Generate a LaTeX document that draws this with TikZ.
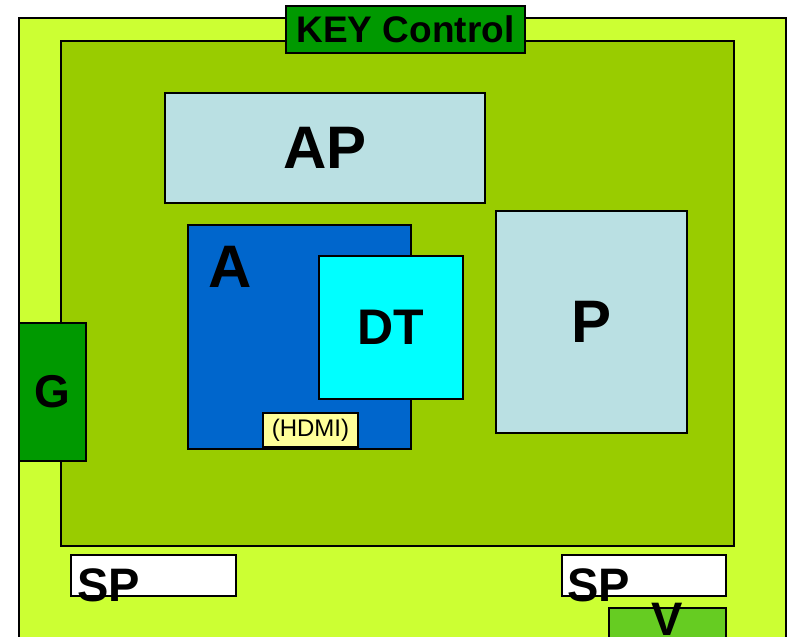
\documentclass[tikz,border=0pt]{standalone}
\usepackage{fontspec}
\setmainfont{Liberation Sans}
\usetikzlibrary{positioning}
\definecolor{limeboard}{HTML}{CCFF33}
\definecolor{panelgreen}{HTML}{99CC00}
\definecolor{keygreen}{HTML}{009900}
\definecolor{paleblue}{HTML}{BAE0E3}
\definecolor{deepblue}{HTML}{0066CC}
\definecolor{aqua}{HTML}{00FFFF}
\definecolor{paleyellow}{HTML}{FFFF99}
\definecolor{vgreen}{HTML}{66CC22}
\tikzset{
  box/.style   ={draw=black, line width=2pt, fill=#1, inner sep=0pt, anchor=north west},
  bigtxt/.style={font=\fontsize{60}{60}\selectfont\bfseries, inner sep=0pt},
  midtxt/.style={font=\fontsize{47}{47}\selectfont\bfseries, inner sep=0pt},
}
\begin{document}
\begin{tikzpicture}[x=1pt, y=-1pt]
\useasboundingbox (0,0) rectangle (790,637);
\clip (0,0) rectangle (790,637);
% board and panel
\node[box=limeboard, minimum width=767pt, minimum height=640pt] (board) at (18,17) {};
\node[box=panelgreen, minimum width=673pt, minimum height=505pt] (panel) at (60,40) {};
\node[box=keygreen, minimum width=239pt, minimum height=47pt,
      font=\fontsize{37}{37}\selectfont\bfseries] (key) at (285,5) {KEY Control};
% blocks inside the panel
\node[box=paleblue, minimum width=320pt, minimum height=110pt, bigtxt] (ap) at (164,92) {AP};
\node[box=paleblue, minimum width=191pt, minimum height=222pt, bigtxt] (p) at (495,210) {P};
\node[box=deepblue, minimum width=223pt, minimum height=224pt] (a) at (187,224) {};
\node[bigtxt] (atxt) at (230,267) {A};
\node[box=aqua, minimum width=144pt, minimum height=143pt,
      font=\fontsize{50}{50}\selectfont\bfseries] (dt) at (318,255) {DT};
\node[box=paleyellow, minimum width=95pt, minimum height=34pt,
      font=\fontsize{24}{24}\selectfont] (hdmi) at (262,412) {(HDMI)};
% edge parts
\node[box=keygreen, minimum width=67pt, minimum height=138pt,
      font=\fontsize{46}{46}\selectfont\bfseries] (g) at (18,322) {G};
\node[box=white, minimum width=165pt, minimum height=41pt] (spl) at (70,554) {};
\node[box=white, minimum width=164pt, minimum height=41pt] (spr) at (561,554) {};
\node[box=vgreen, minimum width=117pt, minimum height=40pt] (v) at (608,607) {};
\node[midtxt, anchor=base west] (spltxt) at (77,601) {SP};
\node[midtxt, anchor=base west] (sprtxt) at (567,601) {SP};
\node[midtxt, anchor=north] (vtxt) at (667,603) {V};
\end{tikzpicture}
\end{document}
